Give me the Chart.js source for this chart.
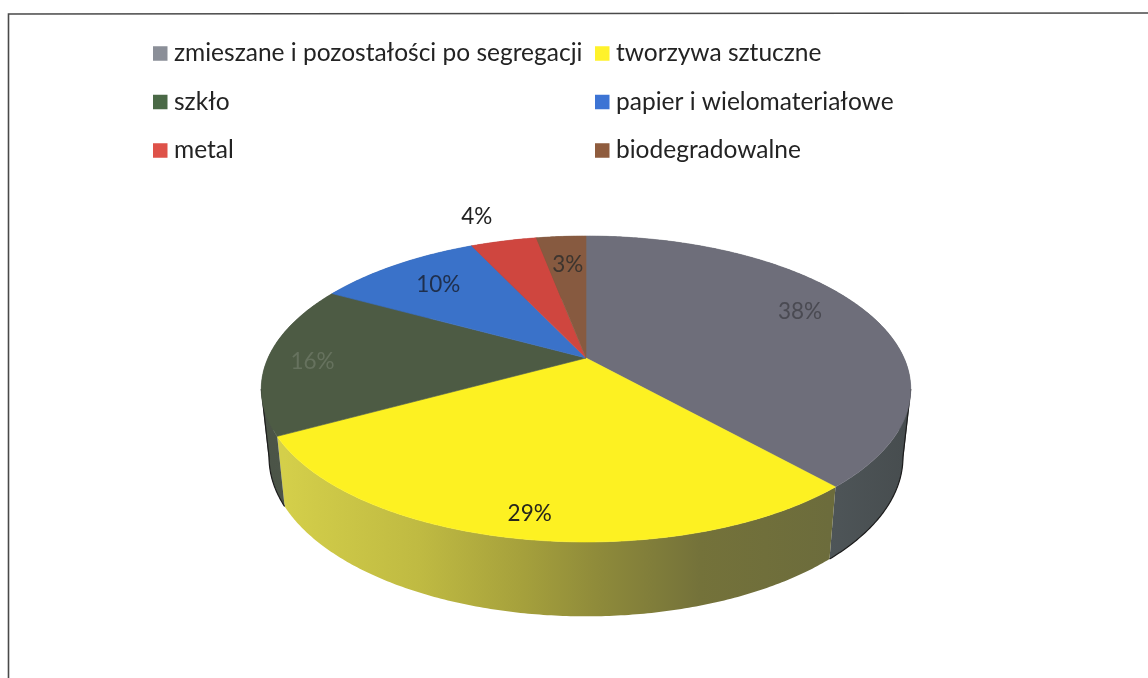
<!DOCTYPE html>
<html lang="pl">
<head>
<meta charset="utf-8">
<style>html,body{margin:0;padding:0;background:#fff}canvas{display:block}</style>
<script src="https://cdn.jsdelivr.net/npm/chart.js@4"></script>
</head>
<body>
<canvas id="c" width="1148" height="678"></canvas>
<script>
const categories = ['zmieszane i pozostałości po segregacji','tworzywa sztuczne','szkło','papier i wielomateriałowe','metal','biodegradowalne'];
const values = [38.4, 28.6, 16, 10, 4, 3];
const topColors = ['#6e6e7a','#fdf122','#4d5b44','#3a72c9','#cf463f','#875a40'];
const swatchColors = ['#8b8f98','#fff22b','#4a6946','#3d74d4','#de5249','#8f5c3e'];
const labelColors = ['#4a4a52','#26261c','#66725e','#1f2f4c','#222222','#3d352f'];
const labelRadii = [0.76, 0.88, 0.86, 0.76, 1.27, 0.74];
const labelNudges = [[0,-9],[1,1],[0,4],[1,0],[-9,1],[1,1]];
const wallStops = [
  [[830,'#4e5558'],[905,'#474d4f']],
  [[284,'#d4cf4a'],[420,'#bfba42'],[520,'#a6a13c'],[600,'#8e8a3a'],[700,'#74723a'],[830,'#6c6c3c']],
  [[261,'#4a5346'],[284,'#4c5548']],
  [[300,'#2c4f80'],[400,'#2c4f80']],
  [[400,'#8c3330'],[500,'#8c3330']],
  [[500,'#5f3f2e'],[600,'#5f3f2e']]
];
const edgeColors = ['#1c1c1c', null, '#1c1c1c', null, null, null];
const font = 'Lato, Carlito, Calibri, sans-serif';

const P = {cx:586, cy:358, A:318, B:146.7, k:0.2026, sx:0.976, sy:1.04, dy:67};
function proj(r, a) {
  const u = r*Math.cos(a), v = r*Math.sin(a), w = 1 - P.k*v;
  return [P.A*u/w, P.B*v/w];
}
const top3d = (r,a) => { const p = proj(r,a); return [P.cx+p[0], P.cy+p[1]]; };
const bot3d = (a) => { const p = proj(1,a); return [P.cx+p[0]*P.sx, P.cy+p[1]*P.sy+P.dy]; };
function rim(fn, a0, a1) {
  const n = Math.max(2, Math.ceil(Math.abs(a1-a0)/0.01)), out = [];
  for (let i=0;i<=n;i++) out.push(fn(a0+(a1-a0)*i/n));
  return out;
}
function area(q) {
  let s = 0;
  q.forEach((p,i)=>{ const n = q[(i+1)%q.length]; s += p[0]*n[1]-n[0]*p[1]; });
  return s;
}
const legendGrid = {x:[153,595], y:[53.5,102,150.5], box:14.5, gap:6.5};

const pie3d = {
  id:'pie3d',
  beforeDraw(chart){
    const c = chart.ctx;
    c.save();
    c.strokeStyle = '#4a4a4a';
    c.lineWidth = 1.6;
    c.beginPath(); c.moveTo(8.5,678); c.lineTo(8.5,14); c.lineTo(1148,13); c.stroke();
    c.restore();
  },
  beforeDatasetsDraw(chart){
    const c = chart.ctx, arcs = chart.getDatasetMeta(0).data;
    c.save();
    // side walls, swept from the top rim to the bottom rim
    arcs.forEach((arc,i)=>{
      const a0 = arc.startAngle, a1 = arc.endAngle;
      const t = rim(a=>top3d(1,a),a0,a1), b = rim(bot3d,a0,a1);
      const s0 = wallStops[i][0][0], s1 = wallStops[i][wallStops[i].length-1][0];
      const g = c.createLinearGradient(s0,0,s1,0);
      wallStops[i].forEach(s=>g.addColorStop((s[0]-s0)/(s1-s0),s[1]));
      c.fillStyle = g;
      c.beginPath();
      for (let j=0;j<t.length-1;j++) {
        const q = [t[j],t[j+1],b[j+1],b[j]];
        if (area(q) < 0) q.reverse();
        c.moveTo(q[0][0],q[0][1]);
        c.lineTo(q[1][0],q[1][1]);
        c.lineTo(q[2][0],q[2][1]);
        c.lineTo(q[3][0],q[3][1]);
        c.closePath();
      }
      c.fill();
    });
    // dark outer silhouette of the wall
    arcs.forEach((arc,i)=>{
      if (!edgeColors[i]) return;
      const t = rim(a=>top3d(1,a),arc.startAngle,arc.endAngle), b = rim(bot3d,arc.startAngle,arc.endAngle);
      const right = t[0][0] > P.cx || t[t.length-1][0] > P.cx;
      let idx = 0;
      t.forEach((p,j)=>{ if (right ? p[0]>t[idx][0] : p[0]<t[idx][0]) idx = j; });
      const seq = right ? b.slice(idx) : b.slice(0,idx+1).reverse();
      c.strokeStyle = edgeColors[i]; c.lineWidth = 1.2;
      c.beginPath();
      c.moveTo(t[idx][0],t[idx][1]);
      seq.forEach(p=>c.lineTo(p[0],p[1]));
      c.stroke();
    });
    // top surface
    arcs.forEach((arc,i)=>{
      const t = rim(a=>top3d(1,a),arc.startAngle,arc.endAngle);
      c.fillStyle = topColors[i];
      c.strokeStyle = topColors[i];
      c.lineWidth = 0.6;
      c.beginPath();
      c.moveTo(P.cx,P.cy);
      t.forEach(p=>c.lineTo(p[0],p[1]));
      c.closePath(); c.fill(); c.stroke();
    });
    // percentage labels
    const total = values.reduce((s,v)=>s+v,0);
    c.font = '22.5px '+font;
    c.textAlign = 'center'; c.textBaseline = 'middle';
    arcs.forEach((arc,i)=>{
      const p = top3d(labelRadii[i],(arc.startAngle+arc.endAngle)/2);
      c.fillStyle = labelColors[i];
      c.fillText(Math.round(values[i]/total*100)+'%',p[0]+labelNudges[i][0],p[1]+labelNudges[i][1]);
    });
    c.restore();
    return false;
  },
  afterDraw(chart){
    const c = chart.ctx;
    const items = chart.options.plugins.legend.labels.generateLabels(chart);
    c.save();
    c.font = '24.5px '+font;
    c.textAlign = 'left'; c.textBaseline = 'alphabetic';
    items.forEach((it,i)=>{
      const x = legendGrid.x[i%2], y = legendGrid.y[Math.floor(i/2)];
      c.fillStyle = swatchColors[i];
      c.fillRect(x,y-7.25,legendGrid.box,legendGrid.box);
      c.fillStyle = '#232323';
      c.fillText(it.text,x+legendGrid.box+legendGrid.gap,y+7.5);
    });
    c.restore();
  }
};

new Chart(document.getElementById('c'),{
  type:'pie',
  data:{labels:categories,datasets:[{data:values,backgroundColor:swatchColors,borderWidth:0}]},
  options:{
    responsive:false,animation:false,
    plugins:{legend:{display:false},tooltip:{enabled:false},title:{display:false}}
  },
  plugins:[pie3d]
});
</script>
</body>
</html>
